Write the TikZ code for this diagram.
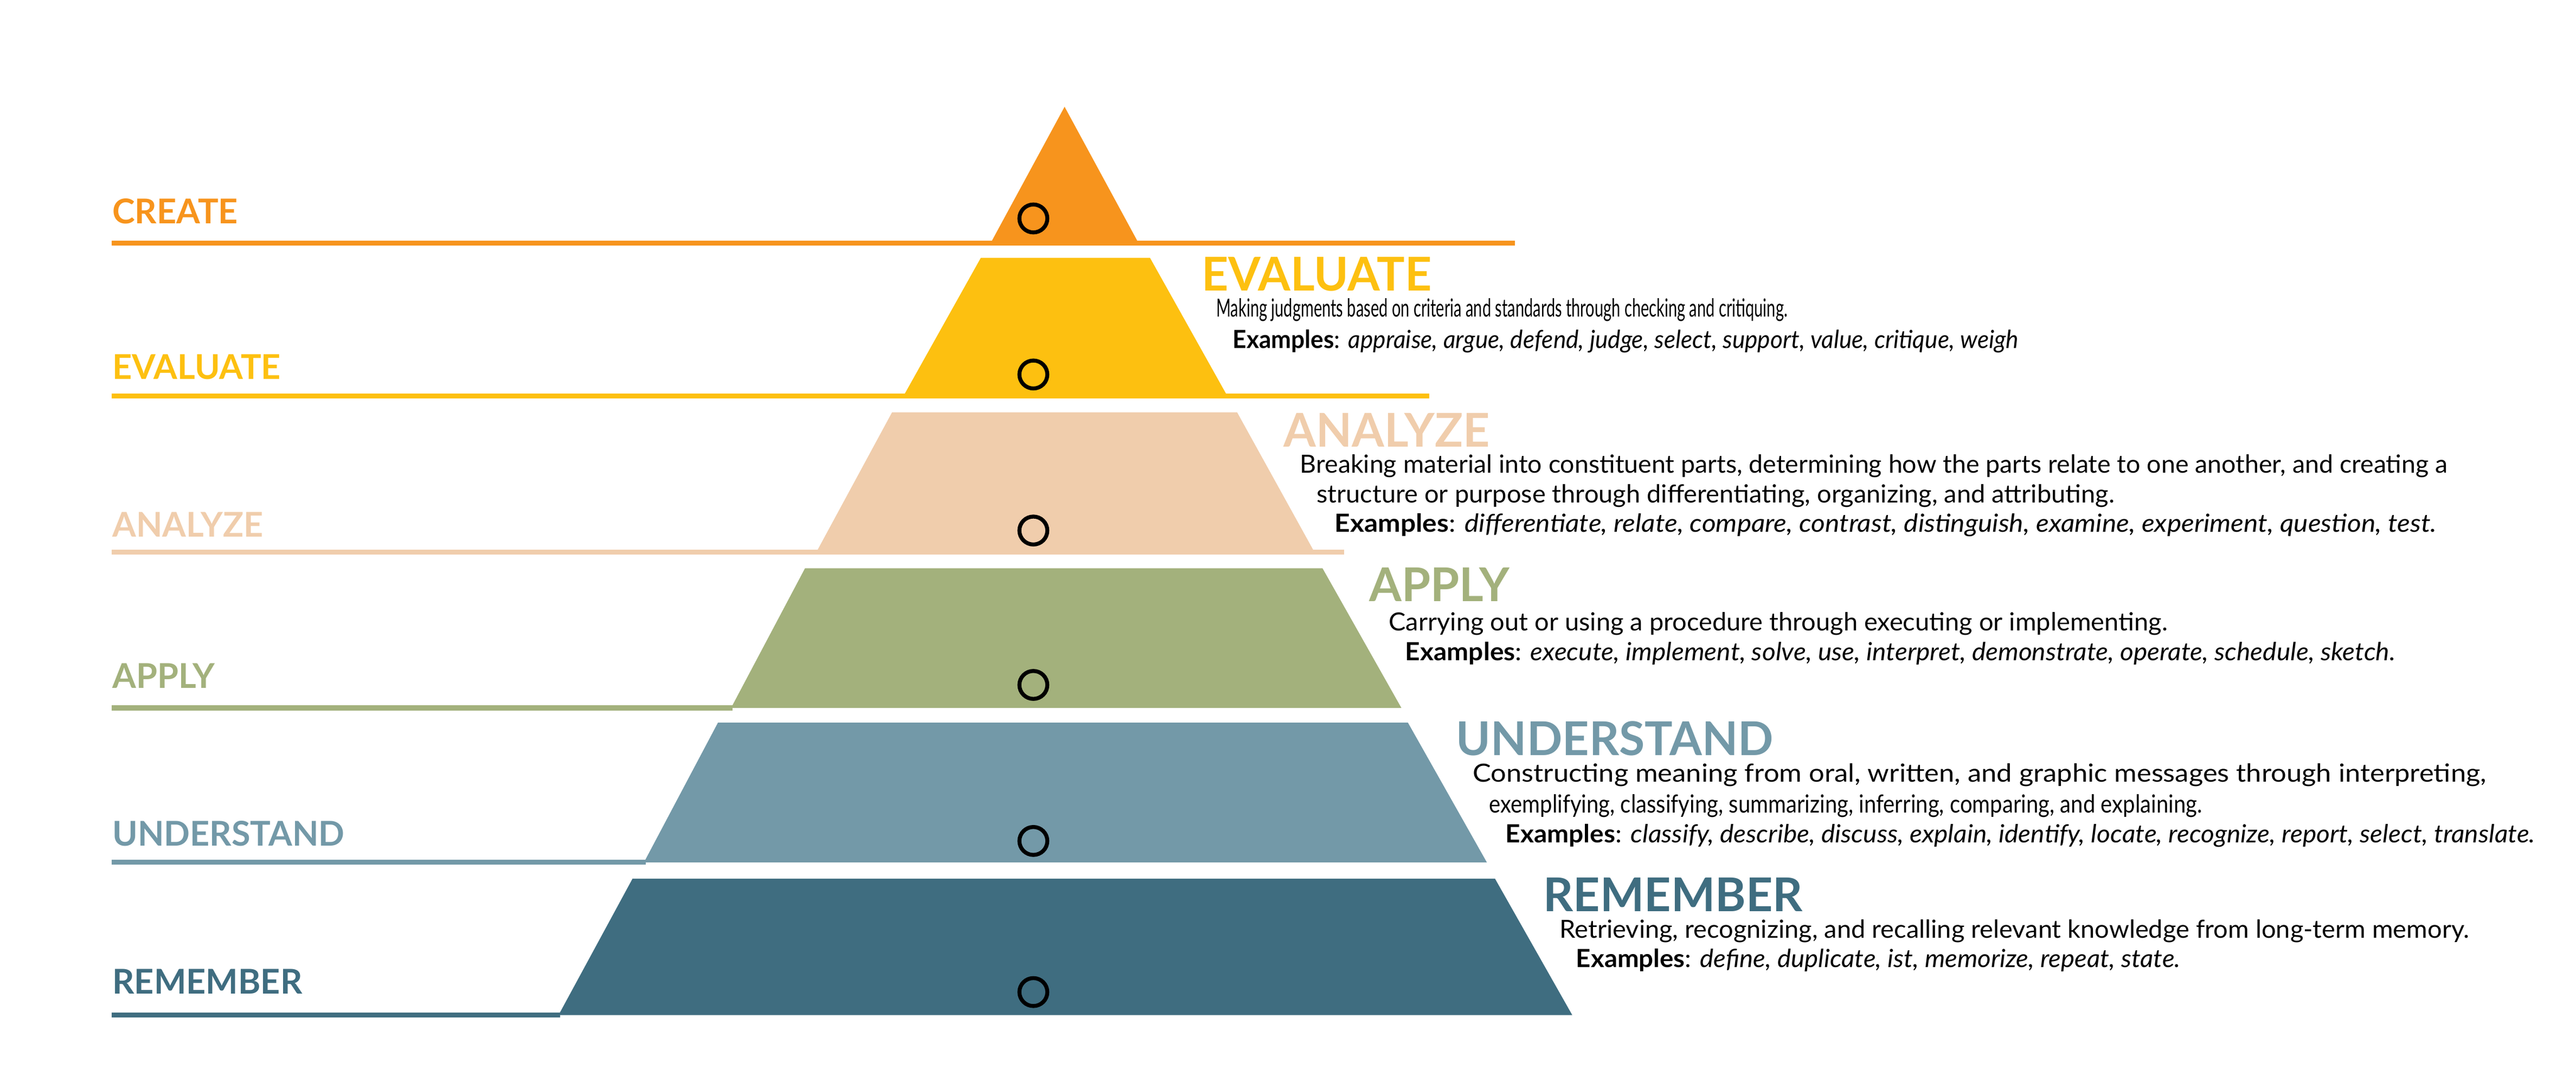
\documentclass[tikz,border=0pt]{standalone}
\usepackage{fontspec}
\setmainfont{Lato}
\newcommand{\sx}[2]{\scalebox{#1}[1]{#2}}
\definecolor{cCreate}{HTML}{F7941D}
\definecolor{cEval}{HTML}{FDC010}
\definecolor{cAnal}{HTML}{F0CDAC}
\definecolor{cApply}{HTML}{A3B17C}
\definecolor{cUnd}{HTML}{7399A8}
\definecolor{cRem}{HTML}{3F6D80}
\begin{document}
\begin{tikzpicture}[x=0.5pt,y=-0.5pt,
  lvl/.style={line width=1.5pt},
  ring/.style={draw=black,line width=1.2pt,circle,minimum size=8.5pt,inner sep=0pt},
  lab/.style={anchor=base west,inner sep=0pt,font=\fontsize{10.4}{10.4}\selectfont\bfseries},
  head/.style={anchor=base west,inner sep=0pt,font=\fontsize{14.2}{14.2}\selectfont\bfseries},
  desc/.style={anchor=base west,inner sep=0pt,font=\fontsize{7.6}{7.6}\selectfont}]
\useasboundingbox (0,0) rectangle (1568,655);
% levels
\fill[cCreate] (648,65) -- (693,148) -- (603,148) -- cycle;
\fill[cEval] (597,157) -- (700,157) -- (747,241) -- (550,241) -- cycle;
\fill[cAnal] (543,251) -- (753,251) -- (800,336) -- (497,336) -- cycle;
\fill[cApply] (490,346) -- (805,346) -- (853,431) -- (445,431) -- cycle;
\fill[cUnd] (437,440) -- (857,440) -- (905,525) -- (392,525) -- cycle;
\fill[cRem] (385,535) -- (910,535) -- (957,618) -- (340,618) -- cycle;
% rules
\coordinate (l1a) at (68,148); \coordinate (l1b) at (922,148);
\coordinate (l2a) at (68,241); \coordinate (l2b) at (870,241);
\coordinate (l3a) at (68,336); \coordinate (l3b) at (818,336);
\coordinate (l4a) at (68,431); \coordinate (l4b) at (446,431);
\coordinate (l5a) at (68,525); \coordinate (l5b) at (393,525);
\coordinate (l6a) at (68,618); \coordinate (l6b) at (341,618);
\draw[lvl,cCreate] (l1a) -- (l1b);
\draw[lvl,cEval] (l2a) -- (l2b);
\draw[lvl,cAnal] (l3a) -- (l3b);
\draw[lvl,cApply] (l4a) -- (l4b);
\draw[lvl,cUnd] (l5a) -- (l5b);
\draw[lvl,cRem] (l6a) -- (l6b);
% rings
\node[ring] (r1) at (629,133) {};
\node[ring] (r2) at (629,228) {};
\node[ring] (r3) at (629,323) {};
\node[ring] (r4) at (629,417) {};
\node[ring] (r5) at (629,512) {};
\node[ring] (r6) at (629,604) {};
% left labels
\node[lab,text=cCreate] (L1) at (68,136) {CREATE};
\node[lab,text=cEval] (L2) at (68,231) {EVALUATE};
\node[lab,text=cAnal] (L3) at (68,327) {ANALYZE};
\node[lab,text=cApply] (L4) at (68,419) {APPLY};
\node[lab,text=cUnd] (L5) at (68,515) {UNDERSTAND};
\node[lab,text=cRem] (L6) at (68,605) {REMEMBER};
% right headings
\node[head,text=cEval] (H2) at (731,177) {EVALUATE};
\node[head,text=cAnal] (H3) at (781,272) {ANALYZE};
\node[head,text=cApply] (H4) at (833,366) {APPLY};
\node[head,text=cUnd] (H5) at (886,460) {UNDERSTAND};
\node[head,text=cRem] (H6) at (939,555) {REMEMBER};
% descriptions
\node[desc] (d2a) at (740,193) {\sx{0.63}{Making judgments based on criteria and standards through checking and critiquing.}};
\node[desc] (d2b) at (750,212) {\sx{0.96}{\textbf{Examples}: \textit{appraise, argue, defend, judge, select, support, value, critique, weigh}}};
\node[desc] (d3a) at (791,288) {\sx{1.01}{Breaking material into constituent parts, determining how the parts relate to one another, and creating a}};
\node[desc] (d3b) at (801,306) {\sx{1.02}{structure or purpose through differentiating, organizing, and attributing.}};
\node[desc] (d3c) at (812,324) {\sx{1.08}{\textbf{Examples}: \textit{differentiate, relate, compare, contrast, distinguish, examine, experiment, question, test.}}};
\node[desc] (d4a) at (845,384) {\sx{1.02}{Carrying out or using a procedure through executing or implementing.}};
\node[desc] (d4b) at (855,402) {\sx{1.04}{\textbf{Examples}: \textit{execute, implement, solve, use, interpret, demonstrate, operate, schedule, sketch.}}};
\node[desc] (d5a) at (896,476) {\sx{1.1}{Constructing meaning from oral, written, and graphic messages through interpreting,}};
\node[desc] (d5b) at (906,495) {\sx{0.87}{exemplifying, classifying, summarizing, inferring, comparing, and explaining.}};
\node[desc] (d5c) at (916,513) {\sx{1.04}{\textbf{Examples}: \textit{classify, describe, discuss, explain, identify, locate, recognize, report, select, translate.}}};
\node[desc] (d6a) at (949,571) {\sx{1.02}{Retrieving, recognizing, and recalling relevant knowledge from long-term memory.}};
\node[desc] (d6b) at (959,589) {\sx{1.03}{\textbf{Examples}: \textit{define, duplicate, ist, memorize, repeat, state.}}};
\end{tikzpicture}
\end{document}
